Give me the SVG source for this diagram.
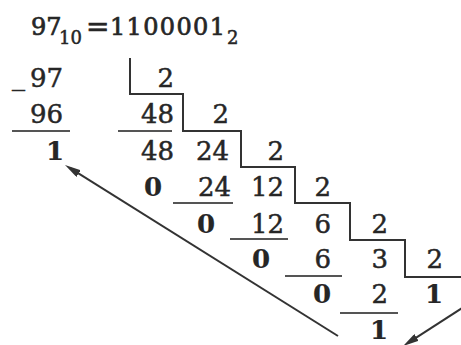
<svg xmlns="http://www.w3.org/2000/svg" width="461" height="345" viewBox="0 0 461 345">
<style>
.t{font-family:"DejaVu Serif","Liberation Serif",serif;font-size:26px;fill:#262626;stroke:#262626;stroke-width:0.5}
.b{font-weight:bold;stroke-width:0.2}
.h{font-family:"DejaVu Serif","Liberation Serif",serif;font-size:24px;fill:#262626;stroke:#262626;stroke-width:0.7}
.s{font-family:"DejaVu Serif","Liberation Serif",serif;font-size:18px;fill:#262626;stroke:#262626;stroke-width:0.5}
.e{text-anchor:end}
.ul{stroke:#555;stroke-width:2;fill:none}
.st{stroke:#333;stroke-width:2;fill:none}
.ar{stroke:#333;stroke-width:2;fill:none;marker-end:url(#ah)}
</style>
<defs>
<marker id="ah" viewBox="0 0 16 8" refX="10" refY="4" markerWidth="16" markerHeight="8" markerUnits="userSpaceOnUse" orient="auto">
<path d="M0,0 L16,4 L0,8 z" fill="#333"/>
</marker>
</defs>
<rect width="461" height="345" fill="#fff"/>
<g id="header">
<text class="h" x="31" y="35">97</text>
<text class="s" x="59" y="44">10</text>
<text class="h" x="86" y="36" style="font-size:28px">=</text>
<text class="h" x="110" y="35" textLength="115" lengthAdjust="spacing">1100001</text>
<text class="s" x="227" y="44">2</text>
</g>
<g id="stairs">
<path class="st" d="M130,58 V94 H183 V131 H241 V167 H295 V203 H350 V240 H405 V277 H461"/>
</g>
<g id="underlines">
<line class="ul" x1="12" y1="131" x2="70" y2="131"/>
<line class="ul" x1="118" y1="131" x2="172" y2="131"/>
<line class="ul" x1="173" y1="203" x2="233" y2="203"/>
<line class="ul" x1="230" y1="239" x2="288" y2="239"/>
<line class="ul" x1="285" y1="276" x2="342" y2="276"/>
<line class="ul" x1="340" y1="313" x2="398" y2="313"/>
</g>
<g id="row0">
<text class="t" x="12" y="85">_</text>
<text class="t e" x="63" y="87">97</text>
<text class="t e" x="174" y="87">2</text>
</g>
<g id="row1">
<text class="t e" x="63" y="123">96</text>
<text class="t e" x="174" y="123">48</text>
<text class="t e" x="229" y="123">2</text>
</g>
<g id="row2">
<text class="t b e" x="64" y="160">1</text>
<text class="t e" x="174" y="160">48</text>
<text class="t e" x="229" y="160">24</text>
<text class="t e" x="284" y="160">2</text>
</g>
<g id="row3">
<text class="t b" x="144" y="196">0</text>
<text class="t e" x="231" y="196">24</text>
<text class="t e" x="284" y="196">12</text>
<text class="t e" x="331" y="196">2</text>
</g>
<g id="row4">
<text class="t b" x="197" y="233">0</text>
<text class="t e" x="284" y="233">12</text>
<text class="t e" x="331" y="233">6</text>
<text class="t e" x="388" y="233">2</text>
</g>
<g id="row5">
<text class="t b" x="252" y="268">0</text>
<text class="t e" x="331" y="268">6</text>
<text class="t e" x="388" y="268">3</text>
<text class="t e" x="443" y="268">2</text>
</g>
<g id="row6">
<text class="t b e" x="331" y="303">0</text>
<text class="t e" x="388" y="303">2</text>
<text class="t b e" x="443" y="303">1</text>
</g>
<g id="row7">
<text class="t b e" x="388" y="339">1</text>
</g>
<g id="connectors">
<line class="ar" x1="338" y1="336" x2="70.1" y2="168.2"/>
<line class="ar" x1="470" y1="303" x2="408.1" y2="342.8"/>
</g>
</svg>
